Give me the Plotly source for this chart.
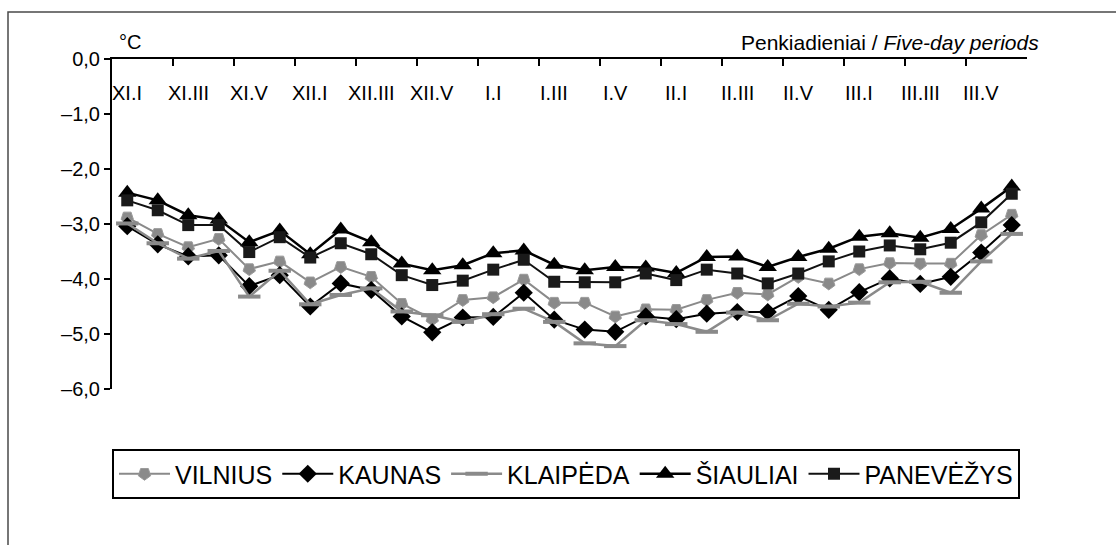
import plotly.graph_objects as go

# Five-day periods, November to March (6 per month)
periods = [f"{m}.{p}" for m in ["XI", "XII", "I", "II", "III"]
           for p in ["I", "II", "III", "IV", "V", "VI"]]
label_periods = periods[::2]

vilnius = [-2.88, -3.18, -3.42, -3.27, -3.82, -3.68, -4.06, -3.78, -3.96, -4.45,
           -4.73, -4.38, -4.33, -4.01, -4.43, -4.43, -4.68, -4.55, -4.56, -4.38,
           -4.25, -4.28, -3.96, -4.08, -3.82, -3.71, -3.72, -3.72, -3.20, -2.83]
kaunas = [-3.04, -3.37, -3.59, -3.57, -4.13, -3.93, -4.50, -4.08, -4.20, -4.68,
          -4.97, -4.70, -4.69, -4.25, -4.74, -4.92, -4.96, -4.68, -4.73, -4.63,
          -4.60, -4.60, -4.31, -4.56, -4.24, -3.99, -4.09, -3.96, -3.52, -3.02]
klaipeda = [-2.99, -3.35, -3.63, -3.49, -4.32, -3.85, -4.46, -4.29, -4.17, -4.59,
            -4.66, -4.78, -4.64, -4.54, -4.78, -5.17, -5.22, -4.75, -4.82, -4.96,
            -4.61, -4.75, -4.45, -4.50, -4.43, -4.06, -4.05, -4.25, -3.68, -3.18]
siauliai = [-2.43, -2.57, -2.84, -2.92, -3.33, -3.12, -3.55, -3.10, -3.33, -3.72,
            -3.84, -3.75, -3.53, -3.48, -3.74, -3.84, -3.78, -3.79, -3.89, -3.60,
            -3.59, -3.78, -3.60, -3.45, -3.23, -3.17, -3.25, -3.09, -2.72, -2.32]
panevezys = [-2.57, -2.75, -3.02, -3.02, -3.51, -3.24, -3.61, -3.35, -3.55, -3.93,
             -4.11, -4.03, -3.83, -3.65, -4.05, -4.06, -4.06, -3.90, -4.02, -3.83,
             -3.90, -4.08, -3.90, -3.68, -3.50, -3.39, -3.46, -3.34, -2.97, -2.45]

y_ticks = [0, -1, -2, -3, -4, -5, -6]
y_tick_text = ["0,0", "\u20131,0", "\u20132,0", "\u20133,0", "\u20134,0", "\u20135,0", "\u20136,0"]

GRAY = "#8a8a8a"
BLACK = "#000000"
x = list(range(len(periods)))

W, H = 1116, 545
L, R, T, B = 112, 89, 59, 156
pw, ph = W - L - R, H - T - B


def px_x(px):
    return (px - L) / pw


def px_y(py):
    return 1 - (py - T) / ph


fig = go.Figure()
fig.add_trace(go.Scatter(
    x=x, y=vilnius, name="VILNIUS", mode="lines+markers",
    line=dict(color=GRAY, width=2),
    marker=dict(symbol="pentagon", angle=180, size=13, color=GRAY,
                line=dict(color="#9a9a9a", width=1))))
fig.add_trace(go.Scatter(
    x=x, y=kaunas, name="KAUNAS", mode="lines+markers",
    line=dict(color=BLACK, width=2),
    marker=dict(symbol="diamond", size=14, color=BLACK)))
fig.add_trace(go.Scatter(
    x=x, y=klaipeda, name="KLAIP\u0116DA", mode="lines+markers",
    line=dict(color=GRAY, width=2.5),
    marker=dict(symbol="line-ew", size=16, color=GRAY,
                line=dict(color=GRAY, width=4))))
fig.add_trace(go.Scatter(
    x=x, y=siauliai, name="\u0160IAULIAI", mode="lines+markers",
    line=dict(color=BLACK, width=2.5),
    marker=dict(symbol="triangle-up", size=16, color=BLACK)))
fig.add_trace(go.Scatter(
    x=x, y=panevezys, name="PANEV\u0116\u017dYS", mode="lines+markers",
    line=dict(color="#111111", width=2),
    marker=dict(symbol="square", size=12, color="#1a1a1a")))

# period labels sit just under the top axis
for i, lab in enumerate(label_periods):
    fig.add_annotation(x=x[i * 2], y=px_y(93), xref="x", yref="paper", text=lab,
                       showarrow=False, font=dict(size=20, color="black"),
                       xanchor="center", yanchor="middle")

# axis-unit and axis-name text
fig.add_annotation(x=px_x(117), y=px_y(42), xref="paper", yref="paper", text="\u00b0C",
                   showarrow=False, xanchor="left", yanchor="middle",
                   font=dict(size=20, color="black"))
fig.add_annotation(x=px_x(1041), y=px_y(43), xref="paper", yref="paper",
                   text="Penkiadieniai / <i>Five-day periods</i>", showarrow=False,
                   xanchor="right", yanchor="middle", font=dict(size=21, color="black"))

# outer frame
fig.add_shape(type="rect", xref="paper", yref="paper",
              x0=px_x(8), x1=px_x(1130), y0=px_y(560), y1=px_y(12),
              line=dict(color="#4a4a4a", width=1.5), fillcolor="rgba(0,0,0,0)", layer="below")

fig.update_layout(
    width=W, height=H,
    margin=dict(l=L, r=R, t=T, b=B, pad=0),
    paper_bgcolor="white", plot_bgcolor="white",
    font=dict(family="Liberation Sans, Arial, sans-serif", color="black"),
    showlegend=True,
    legend=dict(orientation="h", xref="container", yref="container",
                x=112 / W, y=1 - 449 / H, xanchor="left", yanchor="top",
                bordercolor="black", borderwidth=2, bgcolor="white",
                font=dict(size=25, color="black"), itemwidth=51,
                tracegroupgap=0),
    xaxis=dict(side="top", range=[-0.5, 29.5], showgrid=False, zeroline=False,
               showline=True, linecolor="black", linewidth=2,
               tickmode="array", tickvals=[v - 0.5 for v in range(0, 31, 2)],
               ticktext=[""] * 16, ticks="inside", ticklen=7, tickwidth=2,
               tickcolor="black"),
    yaxis=dict(range=[-6, 0], showgrid=False, zeroline=False,
               showline=True, linecolor="black", linewidth=2,
               tickmode="array", tickvals=y_ticks, ticktext=y_tick_text,
               ticks="outside", ticklen=6, tickwidth=2, tickcolor="black",
               tickfont=dict(size=20, color="black")),
)

fig.write_html("out.html")
